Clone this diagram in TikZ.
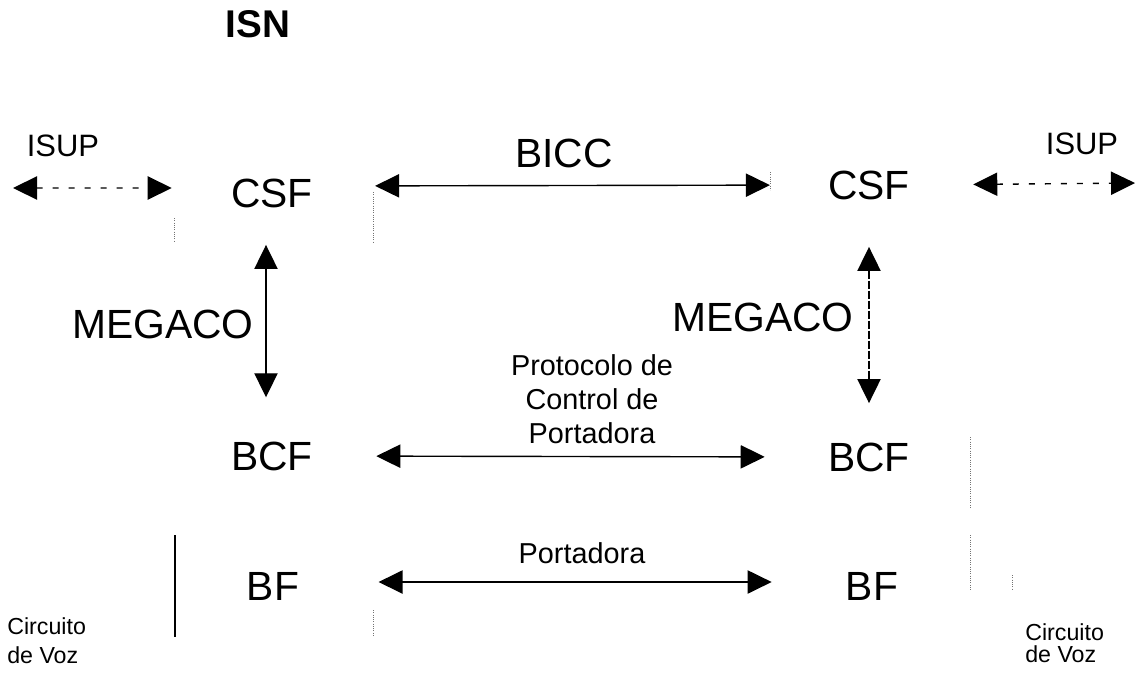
\documentclass[tikz,border=0pt]{standalone}
\usepackage{fontspec}
\setmainfont{Liberation Sans}
\usetikzlibrary{arrows.meta}

\begin{document}
\begin{tikzpicture}[
  x=0.025cm, y=-0.025cm,
  fnode/.style={font=\fontsize{29}{32}\selectfont, inner sep=0pt},
  plabel/.style={font=\fontsize{22}{26}\selectfont, inner sep=0pt},
  blabel/.style={font=\fontsize{29}{32}\selectfont, inner sep=0pt},
  clabel/.style={font=\fontsize{20.5}{24.2}\selectfont, align=center, inner sep=0pt},
  vlabel/.style={font=\fontsize{16.5}{20.6}\selectfont, align=left, inner sep=0pt},
  link/.style={line width=1pt, {Triangle[length=0.6cm,width=0.58cm]}-{Triangle[length=0.6cm,width=0.58cm]}},
  trace/.style={line width=0.6pt, black!55, densely dotted}
]

  % Marco de la imagen
  \useasboundingbox (0,0) rectangle (1137,672);

  % Titulo
  \node[font=\fontsize{27.5}{30}\selectfont\bfseries, inner sep=0pt] (isn) at (258,24) {ISN};

  % Funciones del lado izquierdo
  \node[fnode] (csfL) at (272,193) {CSF};
  \node[fnode] (bcfL) at (272,456) {BCF};
  \node[fnode] (bfL) at (273,586) {BF};

  % Funciones del lado derecho
  \node[fnode] (csfR) at (869,185) {CSF};
  \node[fnode] (bcfR) at (869,457) {BCF};
  \node[fnode] (bfR) at (872,586) {BF};

  % Extremos libres de ISUP
  \coordinate (extL) at (13,188);
  \coordinate (extR) at (1135,183);

  % Etiquetas de los protocolos
  \node[plabel] (isupL) at (63,146) {ISUP};
  \node[plabel] (isupR) at (1082,144) {ISUP};
  \node[blabel] (bicc) at (564,153) {BICC};
  \node[blabel] (megL) at (163,324) {MEGACO};
  \node[blabel] (megR) at (763,317) {MEGACO};
  \node[clabel] (pcp) at (592,399) {Protocolo de\\Control de\\Portadora};
  \node[clabel] (port) at (582,553) {Portadora};

  % Circuitos de voz
  \node[vlabel, anchor=west] (vozL) at (7,641) {Circuito\\de Voz};
  \node[vlabel, anchor=west, font=\fontsize{16.5}{15.8}\selectfont] (vozR) at (1025,643) {Circuito\\de Voz};

  % Senalizacion ISUP
  \draw[link, dash pattern=on 0.15cm off 0.25cm, shorten >=1.48cm] (extL) -- ([yshift=0.125cm]csfL.west);
  \draw[link, dash pattern=on 0.15cm off 0.25cm, shorten <=1.58cm] (csfR.east) -- (extR);

  % BICC entre los CSF
  \draw[link, shorten <=1.55cm, shorten >=1.45cm] ([yshift=0.175cm]csfL.east) -- (csfR.west);

  % MEGACO entre CSF y BCF
  \draw[link, shorten <=0.93cm, shorten >=1.1cm] ([xshift=-0.15cm]csfL.south) -- ([xshift=-0.15cm]bcfL.north);
  \draw[link, dash pattern=on 0.2cm off 0.05cm, shorten <=1.18cm, shorten >=0.98cm] (csfR.south) -- (bcfR.north);

  % Control de portadora y portadora
  \draw[link, shorten <=1.58cm, shorten >=1.58cm] (bcfL.east) -- (bcfR.west);
  \draw[link, shorten <=1.98cm, shorten >=1.85cm] ([yshift=0.1cm]bfL.east) -- ([yshift=0.1cm]bfR.west);

  % Restos del marco (lineas tenues)
  \draw[line width=1pt] (175,535) -- (175,637);
  \draw[trace] (174,218) -- (174,242);
  \draw[trace] (373,192) -- (373,243);
  \draw[trace] (770,172) -- (770,190);
  \draw[trace] (970,437) -- (970,507);
  \draw[trace] (970,535) -- (970,590);
  \draw[trace] (1012,575) -- (1012,590);
  \draw[trace] (373,610) -- (373,635);

\end{tikzpicture}
\end{document}
